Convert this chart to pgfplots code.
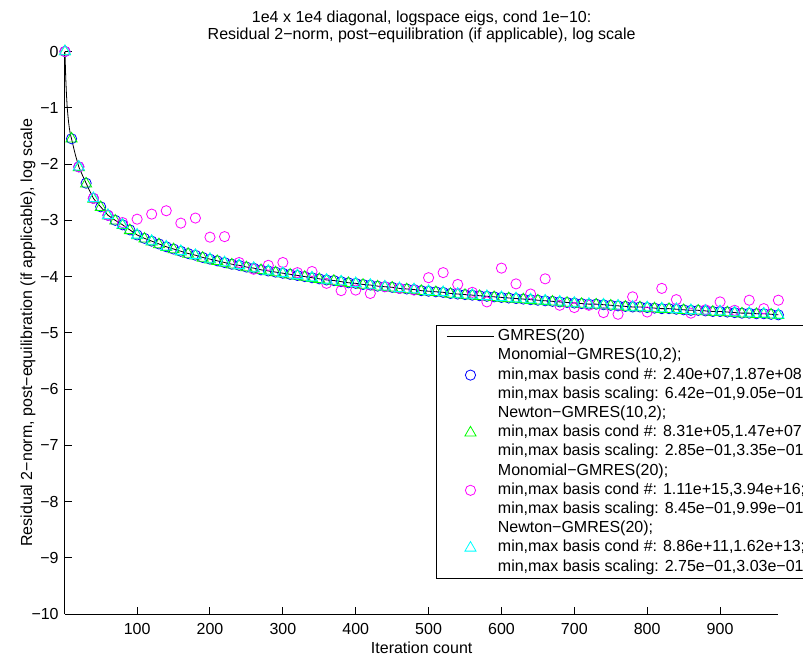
\documentclass[border=0pt]{standalone}
\usepackage{fontspec}
\setmainfont{Liberation Sans}
\usepackage{pgfplots}
\usepackage{pgfplotstable}
\pgfplotsset{compat=1.18}
\definecolor{mblue}{rgb}{0,0,1}
\definecolor{mgreen}{rgb}{0,1,0}
\definecolor{mmag}{rgb}{1,0,1}
\definecolor{mcyan}{rgb}{0,1,1}

\pgfplotstableread{
x y
1 0
2 -0.45
3 -0.75
4 -0.98
5 -1.13
6 -1.26
7 -1.36
8 -1.44
9 -1.50
10 -1.55
12 -1.66
14 -1.77
16 -1.87
18 -1.96
20 -2.05
25 -2.20
30 -2.34
35 -2.48
40 -2.61
45 -2.69
50 -2.76
60 -2.91
70 -3.00
80 -3.08
90 -3.17
100 -3.26
110 -3.32
120 -3.37
130 -3.42
140 -3.47
150 -3.51
160 -3.55
170 -3.59
180 -3.62
190 -3.66
200 -3.69
210 -3.72
220 -3.75
230 -3.78
240 -3.80
250 -3.83
260 -3.85
270 -3.88
280 -3.90
290 -3.92
300 -3.94
310 -3.96
320 -3.98
330 -4.00
340 -4.02
350 -4.04
360 -4.06
370 -4.07
380 -4.09
390 -4.11
400 -4.12
410 -4.14
420 -4.15
430 -4.17
440 -4.18
450 -4.19
460 -4.21
470 -4.22
480 -4.23
490 -4.25
500 -4.26
510 -4.27
520 -4.28
530 -4.30
540 -4.31
550 -4.32
560 -4.33
570 -4.34
580 -4.35
590 -4.36
600 -4.37
610 -4.38
620 -4.39
630 -4.40
640 -4.41
650 -4.42
660 -4.43
670 -4.44
680 -4.45
690 -4.46
700 -4.47
710 -4.48
720 -4.49
730 -4.49
740 -4.50
750 -4.51
760 -4.52
770 -4.53
780 -4.54
790 -4.54
800 -4.55
810 -4.56
820 -4.57
830 -4.57
840 -4.58
850 -4.59
860 -4.60
870 -4.60
880 -4.61
890 -4.62
900 -4.62
910 -4.63
920 -4.64
930 -4.65
940 -4.65
950 -4.66
960 -4.66
970 -4.67
980 -4.68
}\gmres

\pgfplotstableread{
x mono newton
1 0 0
10 -1.55 -1.55
20 -2.05 -2.06
30 -2.34 -2.35
40 -2.61 -2.62
50 -2.76 -2.77
60 -2.91 -2.92
70 -3.00 -3.01
80 -3.08 -3.09
90 -3.17 -3.18
100 -3.26 -3.27
110 -3.32 -3.33
120 -3.37 -3.38
130 -3.42 -3.43
140 -3.47 -3.48
150 -3.51 -3.52
160 -3.55 -3.56
170 -3.59 -3.60
180 -3.62 -3.63
190 -3.66 -3.67
200 -3.69 -3.70
210 -3.72 -3.73
220 -3.75 -3.76
230 -3.78 -3.79
240 -3.80 -3.81
250 -3.83 -3.84
260 -3.85 -3.86
270 -3.88 -3.89
280 -3.90 -3.91
290 -3.92 -3.93
300 -3.94 -3.95
310 -3.96 -3.97
320 -3.98 -3.99
330 -4.00 -4.01
340 -4.02 -4.03
350 -4.04 -4.05
360 -4.06 -4.07
370 -4.07 -4.08
380 -4.09 -4.10
390 -4.11 -4.12
400 -4.12 -4.13
410 -4.14 -4.15
420 -4.15 -4.16
430 -4.17 -4.18
440 -4.18 -4.19
450 -4.19 -4.20
460 -4.21 -4.22
470 -4.22 -4.23
480 -4.23 -4.24
490 -4.25 -4.26
500 -4.26 -4.27
510 -4.27 -4.28
520 -4.28 -4.29
530 -4.30 -4.31
540 -4.31 -4.32
550 -4.32 -4.33
560 -4.33 -4.34
570 -4.34 -4.35
580 -4.35 -4.36
590 -4.36 -4.37
600 -4.37 -4.38
610 -4.38 -4.39
620 -4.39 -4.40
630 -4.40 -4.41
640 -4.41 -4.42
650 -4.42 -4.43
660 -4.43 -4.44
670 -4.44 -4.45
680 -4.45 -4.46
690 -4.46 -4.47
700 -4.47 -4.48
710 -4.48 -4.49
720 -4.49 -4.50
730 -4.49 -4.50
740 -4.50 -4.51
750 -4.51 -4.52
760 -4.52 -4.53
770 -4.53 -4.54
780 -4.54 -4.55
790 -4.54 -4.55
800 -4.55 -4.56
810 -4.56 -4.57
820 -4.57 -4.58
830 -4.57 -4.58
840 -4.58 -4.59
850 -4.59 -4.60
860 -4.60 -4.61
870 -4.60 -4.61
880 -4.61 -4.62
890 -4.62 -4.63
900 -4.62 -4.63
910 -4.63 -4.64
920 -4.64 -4.65
930 -4.65 -4.66
940 -4.65 -4.66
950 -4.66 -4.67
960 -4.66 -4.67
970 -4.67 -4.68
980 -4.68 -4.69
}\tenstep

\pgfplotstableread{
x mono newton
1 0 0
20 -2.05 -2.05
40 -2.61 -2.61
60 -2.91 -2.91
80 -3.04 -3.08
100 -2.98 -3.26
120 -2.89 -3.37
140 -2.83 -3.47
160 -3.05 -3.55
180 -2.96 -3.62
200 -3.30 -3.69
220 -3.29 -3.75
240 -3.75 -3.80
260 -3.87 -3.85
280 -3.80 -3.90
300 -3.75 -3.94
320 -3.93 -3.98
340 -3.91 -4.02
360 -4.12 -4.06
380 -4.25 -4.09
400 -4.24 -4.12
420 -4.30 -4.15
440 -4.18 -4.18
460 -4.21 -4.21
480 -4.24 -4.23
500 -4.02 -4.26
520 -3.93 -4.28
540 -4.14 -4.31
560 -4.28 -4.33
580 -4.45 -4.35
600 -3.85 -4.37
620 -4.13 -4.39
640 -4.31 -4.41
660 -4.04 -4.43
680 -4.51 -4.45
700 -4.55 -4.47
720 -4.51 -4.49
740 -4.64 -4.50
760 -4.67 -4.52
780 -4.36 -4.54
800 -4.63 -4.55
820 -4.21 -4.57
840 -4.41 -4.58
860 -4.65 -4.60
880 -4.59 -4.61
900 -4.45 -4.62
920 -4.60 -4.64
940 -4.42 -4.65
960 -4.57 -4.66
980 -4.42 -4.68
}\twentystep

\begin{document}
\begin{tikzpicture}
\begin{axis}[
  scale only axis,
  width=445.8pt, height=351.6pt,
  xmin=1, xmax=980, ymin=-10, ymax=0,
  axis lines=left,
  axis line style={-, line width=0.6pt, black},
  tick align=inside,
  major tick length=4.4pt,
  tick style={black, line width=0.6pt},
  minor tick num=0,
  xtick={100,200,300,400,500,600,700,800,900},
  xticklabels={100,200,300,400,500,600,700,800,900},
  ytick={-10,-9,-8,-7,-6,-5,-4,-3,-2,-1,0},
  yticklabels={−10,−9,−8,−7,−6,−5,−4,−3,−2,−1,0},
  xticklabel style={anchor=north, inner sep=0pt, yshift=-5.8pt},
  yticklabel style={anchor=east, inner sep=0pt, xshift=-3.75pt},
  /pgf/number format/assume math mode=true,
  clip=false,
  title={1e4 x 1e4 diagonal, logspace eigs, cond 1e−10:\\[-1pt]Residual 2−norm, post−equilibration (if applicable), log scale},
  title style={at={(axis description cs:0.5,0.9972)}, anchor=south, align=center, inner sep=0pt},
  xlabel={Iteration count},
  xlabel style={at={(axis description cs:0.5,-0.0694)}, anchor=base, inner sep=0pt},
  ylabel={Residual 2−norm, post−equilibration (if applicable), log scale},
  ylabel style={at={(axis description cs:-0.0462,0.5)}, anchor=base, inner sep=0pt},
  legend image code/.code={\draw[mark repeat=2,mark phase=2,#1] plot coordinates {(0pt,0pt) (14.7pt,0pt) (29.4pt,0pt)};},
  legend style={at={(axis description cs:0.5202,0.5139)}, anchor=north west,
    draw=black, line width=0.6pt, fill=white,
    inner xsep=6.25pt, inner ysep=1pt,
    row sep=0pt, column sep=2.2pt,
    nodes={inner sep=0pt, anchor=west, text height=8.5pt, text depth=3.5pt}},
  legend cell align=left,
]
\addplot[black, line width=0.5pt, no marks] table[x=x, y=y] {\gmres};
\addlegendentry{GMRES(20)}
\addlegendimage{empty legend}
\addlegendentry{Monomial−GMRES(10,2);}
\addplot[mblue, only marks, mark=o, mark size=3.2pt, mark options={line width=0.5pt}] table[x=x, y=mono] {\tenstep};
\addlegendentry{min,max basis cond \#: 2.40e+07,1.87e+08;}
\addlegendimage{empty legend}
\addlegendentry{min,max basis scaling: 6.42e−01,9.05e−01}
\addlegendimage{empty legend}
\addlegendentry{Newton−GMRES(10,2);}
\addplot[mgreen, only marks, mark=triangle, mark size=4pt, mark options={line width=0.5pt}] table[x=x, y=newton] {\tenstep};
\addlegendentry{min,max basis cond \#: 8.31e+05,1.47e+07;}
\addlegendimage{empty legend}
\addlegendentry{min,max basis scaling: 2.85e−01,3.35e−01}
\addlegendimage{empty legend}
\addlegendentry{Monomial−GMRES(20);}
\addplot[mmag, only marks, mark=o, mark size=3.2pt, mark options={line width=0.5pt}] table[x=x, y=mono] {\twentystep};
\addlegendentry{min,max basis cond \#: 1.11e+15,3.94e+16;}
\addlegendimage{empty legend}
\addlegendentry{min,max basis scaling: 8.45e−01,9.99e−01}
\addlegendimage{empty legend}
\addlegendentry{Newton−GMRES(20);}
\addplot[mcyan, only marks, mark=triangle, mark size=4pt, mark options={line width=0.5pt}] table[x=x, y=newton] {\twentystep};
\addlegendentry{min,max basis cond \#: 8.86e+11,1.62e+13;}
\addlegendimage{empty legend}
\addlegendentry{min,max basis scaling: 2.75e−01,3.03e−01}
\end{axis}
\pgfresetboundingbox
\path ([xshift=-40.6pt,yshift=-27.5pt]current axis.south west) rectangle ([xshift=15.4pt,yshift=32.2pt]current axis.north east);
\end{tikzpicture}
\end{document}
